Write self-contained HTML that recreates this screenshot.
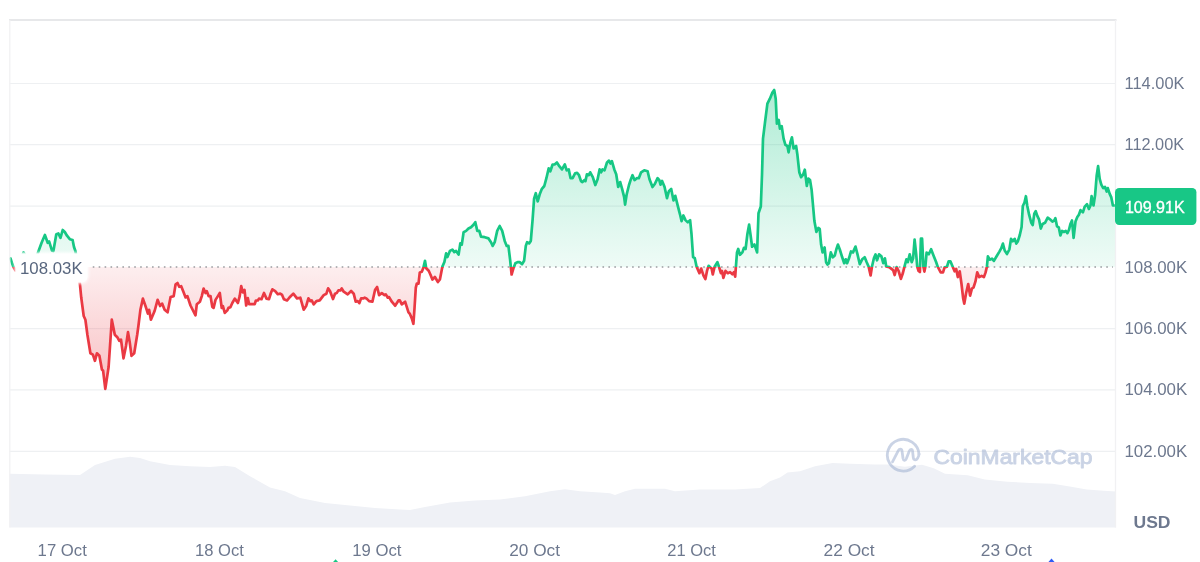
<!DOCTYPE html>
<html lang="en"><head><meta charset="utf-8"><title>BTC 7d price chart</title>
<style>
html,body{margin:0;padding:0;background:#ffffff;}
body{width:1200px;height:562px;overflow:hidden;font-family:"Liberation Sans",sans-serif;}
svg{display:block;will-change:transform;}
text{font-family:"Liberation Sans",sans-serif;}
</style></head><body>
<svg width="1200" height="562" viewBox="0 0 1200 562">
<defs>
<clipPath id="up"><rect x="0" y="0" width="1200" height="267"/></clipPath>
<clipPath id="dn"><rect x="0" y="267" width="1200" height="295"/></clipPath>
<linearGradient id="gg" gradientUnits="userSpaceOnUse" x1="0" y1="90" x2="0" y2="267">
<stop offset="0" stop-color="#16c784" stop-opacity="0.34"/><stop offset="1" stop-color="#16c784" stop-opacity="0.07"/></linearGradient>
<linearGradient id="rg" gradientUnits="userSpaceOnUse" x1="0" y1="267" x2="0" y2="389">
<stop offset="0" stop-color="#ea3943" stop-opacity="0.085"/><stop offset="1" stop-color="#ea3943" stop-opacity="0.32"/></linearGradient>
<filter id="blur" x="-30%" y="-60%" width="160%" height="220%"><feGaussianBlur stdDeviation="1.6"/></filter>
</defs>
<rect x="0" y="0" width="1200" height="562" fill="#ffffff"/>

<line x1="9.5" y1="83.5" x2="1115.5" y2="83.5" stroke="#eef0f2" stroke-width="1.2"/>
<line x1="9.5" y1="144.7" x2="1115.5" y2="144.7" stroke="#eef0f2" stroke-width="1.2"/>
<line x1="9.5" y1="206.1" x2="1115.5" y2="206.1" stroke="#eef0f2" stroke-width="1.2"/>
<line x1="9.5" y1="328.6" x2="1115.5" y2="328.6" stroke="#eef0f2" stroke-width="1.2"/>
<line x1="9.5" y1="389.9" x2="1115.5" y2="389.9" stroke="#eef0f2" stroke-width="1.2"/>
<line x1="9.5" y1="451.3" x2="1115.5" y2="451.3" stroke="#eef0f2" stroke-width="1.2"/>
<path d="M9.5,473.8 L45.0,474.5 L80.0,475.0 L95.0,465.0 L115.0,458.8 L130.0,456.8 L140.0,458.0 L150.0,461.2 L170.0,465.0 L190.0,466.2 L210.0,467.0 L225.0,465.8 L235.0,467.0 L250.0,476.2 L270.0,487.5 L285.0,491.2 L300.0,498.0 L325.0,503.0 L350.0,505.5 L375.0,508.0 L400.0,509.5 L410.0,510.0 L425.0,507.0 L450.0,502.5 L475.0,500.5 L500.0,499.5 L525.0,496.2 L550.0,491.2 L565.0,489.2 L580.0,491.2 L600.0,492.5 L610.0,493.2 L615.0,495.0 L625.0,491.2 L635.0,488.8 L665.0,488.8 L675.0,491.2 L700.0,489.5 L735.0,489.5 L760.0,488.0 L770.0,481.2 L780.0,477.5 L787.5,472.5 L800.0,471.2 L815.0,466.2 L832.5,463.0 L850.0,463.8 L875.0,464.5 L887.5,464.5 L905.0,466.8 L922.0,464.8 L933.7,468.2 L945.0,473.8 L967.7,475.3 L984.7,479.5 L1007.4,481.8 L1030.0,482.9 L1052.7,483.8 L1069.7,486.6 L1086.7,489.4 L1103.7,490.8 L1116.0,491.4 L1116.0,527.5 L9.5,527.5 Z" fill="#eff1f6"/>
<g opacity="0.55" fill="none" stroke="#9fb0d0" stroke-width="2.8" stroke-linecap="round" stroke-linejoin="round">
<path d="M914.6,466.2 A15.85,15.85 0 1 1 919.0,454.1"/>
<path d="M892.5,461.9 L898.3,450.6 C899.4,448.5 901.6,448.5 902,451 L903,458.3 C903.4,460.8 905.4,460.9 906.3,458.8 L909.2,451.2 C910.2,448.8 912.3,448.8 912.6,451.3 L913.3,457.6 C913.7,460.4 916.2,460.5 917.6,458.3 C918.6,456.7 919.0,455.5 919.0,454.1"/>
</g>
<g opacity="0.55"><text x="933.5" y="463.5" font-size="21" font-weight="400" fill="#9fb0d0" stroke="#9fb0d0" stroke-width="0.9" stroke-linejoin="round" textLength="159" lengthAdjust="spacingAndGlyphs">CoinMarketCap</text></g>

<path d="M10.5,258.5 L12.0,263.0 L13.5,267.0 L15.5,270.5 L18.0,270.0 L20.5,262.0 L23.5,252.4 L25.5,256.0 L28.0,262.0 L31.0,264.0 L34.0,262.0 L36.5,257.0 L38.5,251.3 L41.5,243.0 L44.9,235.0 L47.7,242.8 L49.1,241.4 L52.0,250.6 L53.4,251.0 L56.3,234.2 L58.4,233.5 L60.5,237.8 L62.7,230.0 L64.8,232.0 L67.0,235.7 L69.8,239.2 L72.6,240.0 L74.0,247.0 L75.5,251.3 L76.5,258.0 L77.5,267.0 L78.5,275.0 L80.0,284.9 L81.2,297.3 L83.7,316.0 L85.4,319.7 L87.4,334.7 L90.4,353.3 L92.9,354.6 L94.9,360.8 L96.9,353.3 L99.4,355.8 L101.9,369.5 L103.1,370.7 L105.3,388.9 L108.6,367.0 L111.8,319.7 L114.8,334.7 L117.3,337.2 L119.3,340.9 L121.0,339.6 L123.5,358.3 L126.0,345.9 L128.0,332.2 L129.7,342.1 L131.5,355.8 L134.2,353.3 L137.2,334.7 L138.4,326.0 L140.4,309.8 L142.9,298.6 L145.9,307.3 L147.9,313.5 L149.1,309.8 L150.9,319.7 L154.6,311.0 L157.6,299.8 L160.1,306.0 L162.1,303.6 L164.6,309.8 L167.6,312.3 L170.6,297.0 L173.7,296.1 L175.6,284.3 L177.5,283.0 L179.3,286.8 L181.2,286.2 L183.1,291.1 L185.6,297.4 L187.4,296.1 L190.5,305.5 L195.5,315.4 L196.8,304.2 L199.9,301.7 L201.8,296.1 L203.6,288.6 L205.5,293.0 L206.7,291.1 L208.6,296.1 L210.5,296.1 L212.3,306.7 L213.6,307.9 L215.5,299.9 L217.9,296.1 L219.8,293.0 L221.7,307.9 L222.9,306.1 L224.8,312.9 L227.3,310.4 L228.5,307.9 L230.4,307.3 L232.3,303.0 L234.8,298.6 L237.9,303.0 L239.7,296.1 L241.2,286.2 L242.9,292.4 L244.5,289.9 L246.2,305.5 L247.8,298.0 L249.1,304.2 L254.7,304.2 L255.9,300.5 L257.8,300.5 L259.0,298.6 L261.5,299.2 L264.0,293.0 L266.5,298.6 L269.0,299.2 L270.9,293.0 L272.4,289.3 L275.2,291.1 L277.7,294.2 L280.2,293.6 L282.1,294.9 L283.9,299.2 L287.1,300.5 L290.2,296.7 L293.3,293.6 L297.0,298.4 L300.3,297.7 L303.7,309.7 L306.3,305.7 L308.4,298.4 L310.4,301.1 L311.7,300.4 L313.7,304.4 L316.4,301.1 L319.7,300.4 L323.7,295.1 L326.4,293.7 L328.1,288.4 L330.0,291.0 L333.0,299.1 L335.0,293.7 L336.7,293.1 L338.4,290.4 L340.4,290.4 L341.7,288.4 L343.7,291.7 L347.7,294.4 L351.1,291.0 L353.7,293.7 L355.7,301.7 L357.7,301.1 L359.4,303.1 L361.1,298.4 L363.1,298.4 L364.7,297.7 L366.4,298.4 L369.1,301.1 L372.4,301.7 L375.1,289.7 L377.1,287.0 L379.1,295.1 L381.8,293.1 L384.5,295.1 L385.8,294.4 L387.8,297.7 L389.1,297.1 L391.8,301.7 L395.1,305.7 L398.5,300.4 L399.8,300.4 L401.8,304.4 L405.1,301.7 L408.5,312.4 L409.8,313.7 L411.8,318.4 L413.4,323.8 L414.5,308.4 L415.8,287.7 L416.8,283.7 L418.5,283.7 L419.8,272.4 L421.8,271.7 L423.4,267.7 L425.0,260.8 L426.2,268.3 L428.7,270.8 L430.4,274.5 L432.4,279.5 L434.9,277.0 L437.9,282.0 L439.9,279.5 L442.4,266.6 L444.4,262.0 L446.1,253.4 L447.4,257.1 L449.9,250.9 L452.4,249.6 L454.3,252.1 L456.1,250.9 L458.6,254.6 L460.3,243.4 L461.8,244.6 L463.6,232.2 L466.1,230.9 L468.5,228.5 L471.0,227.2 L473.5,224.7 L475.3,222.2 L477.3,230.9 L479.3,230.9 L481.0,236.7 L484.7,237.2 L488.5,238.4 L491.0,242.2 L492.7,245.9 L494.7,242.2 L497.2,230.9 L499.7,226.0 L502.2,230.9 L504.7,240.9 L506.7,245.9 L508.4,245.9 L510.1,259.6 L511.6,274.5 L513.4,268.3 L515.4,263.3 L517.6,262.1 L519.6,262.1 L522.1,264.1 L524.1,260.8 L525.8,245.9 L527.1,242.2 L529.1,243.4 L530.8,240.9 L532.6,219.7 L534.1,198.6 L535.8,193.2 L537.7,201.4 L539.7,194.3 L541.9,188.8 L544.3,186.0 L546.4,178.2 L548.7,168.4 L550.3,171.3 L552.6,164.5 L554.6,164.5 L556.9,162.5 L559.5,166.4 L562.0,169.4 L564.8,164.5 L566.7,170.3 L568.7,169.4 L570.6,178.2 L572.6,178.2 L575.1,173.3 L577.1,172.9 L579.0,175.2 L581.0,181.1 L582.4,182.1 L584.3,180.1 L585.5,181.1 L586.9,174.3 L588.8,175.2 L590.2,172.3 L592.8,177.2 L595.3,185.0 L597.6,179.2 L599.6,169.4 L601.2,172.3 L602.5,169.4 L604.5,170.3 L607.0,162.5 L609.0,160.6 L610.4,163.5 L611.9,161.1 L614.3,169.4 L616.2,174.3 L618.2,187.0 L620.2,182.1 L622.1,188.9 L624.1,196.8 L625.1,204.6 L626.6,194.8 L629.0,185.0 L630.9,179.2 L632.5,175.2 L634.5,180.1 L636.8,178.2 L638.8,178.2 L641.1,172.3 L644.2,170.3 L647.6,171.3 L649.5,179.2 L652.5,187.0 L654.8,184.0 L657.6,178.1 L659.3,180.1 L660.5,184.6 L662.1,181.0 L664.5,186.8 L667.0,198.1 L668.9,191.2 L671.2,188.9 L673.5,200.4 L675.3,195.8 L677.6,205.1 L680.0,214.3 L681.6,221.2 L683.4,215.5 L685.5,220.1 L687.8,222.4 L690.1,220.1 L691.5,234.0 L693.1,257.1 L694.8,258.2 L696.6,266.8 L699.4,273.2 L701.2,268.6 L703.5,275.6 L705.4,279.0 L707.0,270.9 L708.6,265.8 L711.6,268.6 L712.8,274.4 L714.6,266.8 L717.4,262.1 L719.2,267.5 L720.9,273.2 L722.0,270.9 L723.4,277.9 L725.5,270.9 L727.8,273.2 L730.1,272.1 L732.4,274.4 L734.0,272.1 L735.2,276.7 L735.9,266.8 L737.0,252.4 L738.2,249.0 L740.0,254.8 L742.4,252.4 L744.0,247.8 L745.6,249.0 L747.4,234.0 L749.1,224.7 L750.4,234.0 L752.1,246.7 L754.4,244.4 L757.1,252.4 L758.5,213.2 L760.8,206.5 L762.0,175.0 L763.0,138.6 L765.0,122.4 L767.4,103.7 L769.9,98.7 L772.4,92.5 L774.2,90.0 L775.7,98.7 L776.9,123.6 L778.7,119.9 L779.9,128.6 L781.7,126.1 L783.6,138.6 L785.4,144.8 L787.4,146.0 L788.6,152.3 L790.4,142.3 L791.9,137.3 L793.6,148.5 L796.1,146.0 L797.4,154.8 L799.3,172.2 L801.1,177.2 L803.1,174.7 L804.8,169.7 L806.8,185.9 L808.3,178.5 L810.0,180.0 L811.6,189.7 L812.8,203.0 L814.4,221.1 L816.4,231.9 L818.3,228.0 L819.7,228.9 L821.1,244.6 L822.6,252.4 L824.6,247.5 L826.1,262.2 L827.5,264.6 L828.9,263.2 L830.8,252.4 L832.8,257.3 L834.8,255.4 L836.3,249.5 L837.9,244.6 L839.8,249.5 L842.2,257.3 L844.2,263.2 L845.7,259.3 L847.1,263.2 L849.0,258.3 L851.0,251.5 L853.0,252.4 L855.5,246.6 L857.5,254.4 L859.8,264.2 L862.2,259.3 L864.7,257.3 L866.7,262.2 L868.6,266.5 L870.6,275.5 L872.0,266.5 L873.9,258.3 L875.5,254.4 L877.0,260.3 L879.0,254.4 L881.4,256.4 L883.3,263.2 L884.9,258.3 L886.2,266.5 L889.2,267.1 L893.1,270.1 L894.7,275.0 L896.6,267.1 L898.6,271.0 L900.9,278.9 L902.9,273.0 L904.5,266.5 L906.4,259.3 L907.8,262.2 L909.7,254.4 L911.7,262.2 L913.1,258.3 L914.6,239.7 L916.2,254.4 L917.2,266.5 L918.6,271.0 L919.9,272.0 L920.9,238.7 L922.1,238.7 L923.4,266.5 L924.4,271.6 L925.4,266.5 L926.6,252.6 L928.8,254.2 L931.1,249.2 L933.5,255.4 L936.1,262.0 L937.7,266.7 L940.7,272.4 L943.0,272.4 L944.6,267.4 L947.0,266.7 L948.6,261.3 L950.4,261.3 L952.7,266.7 L954.6,271.3 L956.2,269.0 L957.8,277.1 L959.7,271.3 L961.5,284.0 L963.1,297.9 L964.3,303.6 L966.1,293.2 L968.2,284.0 L970.1,295.6 L971.9,288.6 L973.5,287.5 L975.4,281.7 L977.2,272.4 L979.3,277.1 L981.6,275.9 L983.9,277.1 L985.6,272.4 L986.9,266.7 L987.9,256.3 L989.7,259.7 L992.0,258.6 L993.9,260.9 L996.6,256.3 L999.4,251.6 L1001.3,248.2 L1002.9,243.6 L1004.7,250.5 L1007.0,254.0 L1009.4,249.3 L1011.0,238.9 L1012.8,241.2 L1014.7,238.9 L1016.3,243.6 L1017.9,241.2 L1019.8,235.0 L1021.6,227.0 L1022.8,206.0 L1024.5,202.5 L1025.9,196.2 L1027.3,206.0 L1029.1,214.7 L1031.2,222.5 L1032.7,225.1 L1034.3,213.6 L1035.7,211.2 L1037.3,215.9 L1039.0,219.3 L1040.8,228.6 L1042.6,224.0 L1045.0,222.8 L1047.7,217.7 L1050.0,219.3 L1052.4,221.6 L1054.2,220.5 L1055.4,218.2 L1057.0,226.3 L1058.8,227.4 L1060.4,235.5 L1062.1,230.9 L1063.9,232.0 L1065.8,230.9 L1067.4,233.2 L1069.0,229.7 L1070.4,224.0 L1072.0,220.5 L1073.6,237.8 L1075.5,221.6 L1077.3,217.0 L1078.9,214.7 L1080.5,210.1 L1082.9,212.4 L1084.7,206.6 L1087.0,204.3 L1088.9,208.9 L1090.5,205.5 L1091.6,196.2 L1093.5,205.5 L1095.1,195.1 L1096.7,175.4 L1098.1,166.2 L1099.7,178.9 L1101.3,184.7 L1103.2,188.1 L1105.0,187.0 L1106.7,191.6 L1107.8,188.1 L1109.7,193.9 L1111.3,197.4 L1112.9,205.5 L1115.5,205.5 L1115.5,267.0 L10.5,267.0 Z" fill="url(#gg)" clip-path="url(#up)"/>
<path d="M10.5,258.5 L12.0,263.0 L13.5,267.0 L15.5,270.5 L18.0,270.0 L20.5,262.0 L23.5,252.4 L25.5,256.0 L28.0,262.0 L31.0,264.0 L34.0,262.0 L36.5,257.0 L38.5,251.3 L41.5,243.0 L44.9,235.0 L47.7,242.8 L49.1,241.4 L52.0,250.6 L53.4,251.0 L56.3,234.2 L58.4,233.5 L60.5,237.8 L62.7,230.0 L64.8,232.0 L67.0,235.7 L69.8,239.2 L72.6,240.0 L74.0,247.0 L75.5,251.3 L76.5,258.0 L77.5,267.0 L78.5,275.0 L80.0,284.9 L81.2,297.3 L83.7,316.0 L85.4,319.7 L87.4,334.7 L90.4,353.3 L92.9,354.6 L94.9,360.8 L96.9,353.3 L99.4,355.8 L101.9,369.5 L103.1,370.7 L105.3,388.9 L108.6,367.0 L111.8,319.7 L114.8,334.7 L117.3,337.2 L119.3,340.9 L121.0,339.6 L123.5,358.3 L126.0,345.9 L128.0,332.2 L129.7,342.1 L131.5,355.8 L134.2,353.3 L137.2,334.7 L138.4,326.0 L140.4,309.8 L142.9,298.6 L145.9,307.3 L147.9,313.5 L149.1,309.8 L150.9,319.7 L154.6,311.0 L157.6,299.8 L160.1,306.0 L162.1,303.6 L164.6,309.8 L167.6,312.3 L170.6,297.0 L173.7,296.1 L175.6,284.3 L177.5,283.0 L179.3,286.8 L181.2,286.2 L183.1,291.1 L185.6,297.4 L187.4,296.1 L190.5,305.5 L195.5,315.4 L196.8,304.2 L199.9,301.7 L201.8,296.1 L203.6,288.6 L205.5,293.0 L206.7,291.1 L208.6,296.1 L210.5,296.1 L212.3,306.7 L213.6,307.9 L215.5,299.9 L217.9,296.1 L219.8,293.0 L221.7,307.9 L222.9,306.1 L224.8,312.9 L227.3,310.4 L228.5,307.9 L230.4,307.3 L232.3,303.0 L234.8,298.6 L237.9,303.0 L239.7,296.1 L241.2,286.2 L242.9,292.4 L244.5,289.9 L246.2,305.5 L247.8,298.0 L249.1,304.2 L254.7,304.2 L255.9,300.5 L257.8,300.5 L259.0,298.6 L261.5,299.2 L264.0,293.0 L266.5,298.6 L269.0,299.2 L270.9,293.0 L272.4,289.3 L275.2,291.1 L277.7,294.2 L280.2,293.6 L282.1,294.9 L283.9,299.2 L287.1,300.5 L290.2,296.7 L293.3,293.6 L297.0,298.4 L300.3,297.7 L303.7,309.7 L306.3,305.7 L308.4,298.4 L310.4,301.1 L311.7,300.4 L313.7,304.4 L316.4,301.1 L319.7,300.4 L323.7,295.1 L326.4,293.7 L328.1,288.4 L330.0,291.0 L333.0,299.1 L335.0,293.7 L336.7,293.1 L338.4,290.4 L340.4,290.4 L341.7,288.4 L343.7,291.7 L347.7,294.4 L351.1,291.0 L353.7,293.7 L355.7,301.7 L357.7,301.1 L359.4,303.1 L361.1,298.4 L363.1,298.4 L364.7,297.7 L366.4,298.4 L369.1,301.1 L372.4,301.7 L375.1,289.7 L377.1,287.0 L379.1,295.1 L381.8,293.1 L384.5,295.1 L385.8,294.4 L387.8,297.7 L389.1,297.1 L391.8,301.7 L395.1,305.7 L398.5,300.4 L399.8,300.4 L401.8,304.4 L405.1,301.7 L408.5,312.4 L409.8,313.7 L411.8,318.4 L413.4,323.8 L414.5,308.4 L415.8,287.7 L416.8,283.7 L418.5,283.7 L419.8,272.4 L421.8,271.7 L423.4,267.7 L425.0,260.8 L426.2,268.3 L428.7,270.8 L430.4,274.5 L432.4,279.5 L434.9,277.0 L437.9,282.0 L439.9,279.5 L442.4,266.6 L444.4,262.0 L446.1,253.4 L447.4,257.1 L449.9,250.9 L452.4,249.6 L454.3,252.1 L456.1,250.9 L458.6,254.6 L460.3,243.4 L461.8,244.6 L463.6,232.2 L466.1,230.9 L468.5,228.5 L471.0,227.2 L473.5,224.7 L475.3,222.2 L477.3,230.9 L479.3,230.9 L481.0,236.7 L484.7,237.2 L488.5,238.4 L491.0,242.2 L492.7,245.9 L494.7,242.2 L497.2,230.9 L499.7,226.0 L502.2,230.9 L504.7,240.9 L506.7,245.9 L508.4,245.9 L510.1,259.6 L511.6,274.5 L513.4,268.3 L515.4,263.3 L517.6,262.1 L519.6,262.1 L522.1,264.1 L524.1,260.8 L525.8,245.9 L527.1,242.2 L529.1,243.4 L530.8,240.9 L532.6,219.7 L534.1,198.6 L535.8,193.2 L537.7,201.4 L539.7,194.3 L541.9,188.8 L544.3,186.0 L546.4,178.2 L548.7,168.4 L550.3,171.3 L552.6,164.5 L554.6,164.5 L556.9,162.5 L559.5,166.4 L562.0,169.4 L564.8,164.5 L566.7,170.3 L568.7,169.4 L570.6,178.2 L572.6,178.2 L575.1,173.3 L577.1,172.9 L579.0,175.2 L581.0,181.1 L582.4,182.1 L584.3,180.1 L585.5,181.1 L586.9,174.3 L588.8,175.2 L590.2,172.3 L592.8,177.2 L595.3,185.0 L597.6,179.2 L599.6,169.4 L601.2,172.3 L602.5,169.4 L604.5,170.3 L607.0,162.5 L609.0,160.6 L610.4,163.5 L611.9,161.1 L614.3,169.4 L616.2,174.3 L618.2,187.0 L620.2,182.1 L622.1,188.9 L624.1,196.8 L625.1,204.6 L626.6,194.8 L629.0,185.0 L630.9,179.2 L632.5,175.2 L634.5,180.1 L636.8,178.2 L638.8,178.2 L641.1,172.3 L644.2,170.3 L647.6,171.3 L649.5,179.2 L652.5,187.0 L654.8,184.0 L657.6,178.1 L659.3,180.1 L660.5,184.6 L662.1,181.0 L664.5,186.8 L667.0,198.1 L668.9,191.2 L671.2,188.9 L673.5,200.4 L675.3,195.8 L677.6,205.1 L680.0,214.3 L681.6,221.2 L683.4,215.5 L685.5,220.1 L687.8,222.4 L690.1,220.1 L691.5,234.0 L693.1,257.1 L694.8,258.2 L696.6,266.8 L699.4,273.2 L701.2,268.6 L703.5,275.6 L705.4,279.0 L707.0,270.9 L708.6,265.8 L711.6,268.6 L712.8,274.4 L714.6,266.8 L717.4,262.1 L719.2,267.5 L720.9,273.2 L722.0,270.9 L723.4,277.9 L725.5,270.9 L727.8,273.2 L730.1,272.1 L732.4,274.4 L734.0,272.1 L735.2,276.7 L735.9,266.8 L737.0,252.4 L738.2,249.0 L740.0,254.8 L742.4,252.4 L744.0,247.8 L745.6,249.0 L747.4,234.0 L749.1,224.7 L750.4,234.0 L752.1,246.7 L754.4,244.4 L757.1,252.4 L758.5,213.2 L760.8,206.5 L762.0,175.0 L763.0,138.6 L765.0,122.4 L767.4,103.7 L769.9,98.7 L772.4,92.5 L774.2,90.0 L775.7,98.7 L776.9,123.6 L778.7,119.9 L779.9,128.6 L781.7,126.1 L783.6,138.6 L785.4,144.8 L787.4,146.0 L788.6,152.3 L790.4,142.3 L791.9,137.3 L793.6,148.5 L796.1,146.0 L797.4,154.8 L799.3,172.2 L801.1,177.2 L803.1,174.7 L804.8,169.7 L806.8,185.9 L808.3,178.5 L810.0,180.0 L811.6,189.7 L812.8,203.0 L814.4,221.1 L816.4,231.9 L818.3,228.0 L819.7,228.9 L821.1,244.6 L822.6,252.4 L824.6,247.5 L826.1,262.2 L827.5,264.6 L828.9,263.2 L830.8,252.4 L832.8,257.3 L834.8,255.4 L836.3,249.5 L837.9,244.6 L839.8,249.5 L842.2,257.3 L844.2,263.2 L845.7,259.3 L847.1,263.2 L849.0,258.3 L851.0,251.5 L853.0,252.4 L855.5,246.6 L857.5,254.4 L859.8,264.2 L862.2,259.3 L864.7,257.3 L866.7,262.2 L868.6,266.5 L870.6,275.5 L872.0,266.5 L873.9,258.3 L875.5,254.4 L877.0,260.3 L879.0,254.4 L881.4,256.4 L883.3,263.2 L884.9,258.3 L886.2,266.5 L889.2,267.1 L893.1,270.1 L894.7,275.0 L896.6,267.1 L898.6,271.0 L900.9,278.9 L902.9,273.0 L904.5,266.5 L906.4,259.3 L907.8,262.2 L909.7,254.4 L911.7,262.2 L913.1,258.3 L914.6,239.7 L916.2,254.4 L917.2,266.5 L918.6,271.0 L919.9,272.0 L920.9,238.7 L922.1,238.7 L923.4,266.5 L924.4,271.6 L925.4,266.5 L926.6,252.6 L928.8,254.2 L931.1,249.2 L933.5,255.4 L936.1,262.0 L937.7,266.7 L940.7,272.4 L943.0,272.4 L944.6,267.4 L947.0,266.7 L948.6,261.3 L950.4,261.3 L952.7,266.7 L954.6,271.3 L956.2,269.0 L957.8,277.1 L959.7,271.3 L961.5,284.0 L963.1,297.9 L964.3,303.6 L966.1,293.2 L968.2,284.0 L970.1,295.6 L971.9,288.6 L973.5,287.5 L975.4,281.7 L977.2,272.4 L979.3,277.1 L981.6,275.9 L983.9,277.1 L985.6,272.4 L986.9,266.7 L987.9,256.3 L989.7,259.7 L992.0,258.6 L993.9,260.9 L996.6,256.3 L999.4,251.6 L1001.3,248.2 L1002.9,243.6 L1004.7,250.5 L1007.0,254.0 L1009.4,249.3 L1011.0,238.9 L1012.8,241.2 L1014.7,238.9 L1016.3,243.6 L1017.9,241.2 L1019.8,235.0 L1021.6,227.0 L1022.8,206.0 L1024.5,202.5 L1025.9,196.2 L1027.3,206.0 L1029.1,214.7 L1031.2,222.5 L1032.7,225.1 L1034.3,213.6 L1035.7,211.2 L1037.3,215.9 L1039.0,219.3 L1040.8,228.6 L1042.6,224.0 L1045.0,222.8 L1047.7,217.7 L1050.0,219.3 L1052.4,221.6 L1054.2,220.5 L1055.4,218.2 L1057.0,226.3 L1058.8,227.4 L1060.4,235.5 L1062.1,230.9 L1063.9,232.0 L1065.8,230.9 L1067.4,233.2 L1069.0,229.7 L1070.4,224.0 L1072.0,220.5 L1073.6,237.8 L1075.5,221.6 L1077.3,217.0 L1078.9,214.7 L1080.5,210.1 L1082.9,212.4 L1084.7,206.6 L1087.0,204.3 L1088.9,208.9 L1090.5,205.5 L1091.6,196.2 L1093.5,205.5 L1095.1,195.1 L1096.7,175.4 L1098.1,166.2 L1099.7,178.9 L1101.3,184.7 L1103.2,188.1 L1105.0,187.0 L1106.7,191.6 L1107.8,188.1 L1109.7,193.9 L1111.3,197.4 L1112.9,205.5 L1115.5,205.5 L1115.5,267.0 L10.5,267.0 Z" fill="url(#rg)" clip-path="url(#dn)"/>
<line x1="92.75" y1="267.0" x2="1113" y2="267.0" stroke="#9a9ca0" stroke-width="1.6" stroke-dasharray="1.6 4.327"/>
<path d="M10.5,258.5 L12.0,263.0 L13.5,267.0 L15.5,270.5 L18.0,270.0 L20.5,262.0 L23.5,252.4 L25.5,256.0 L28.0,262.0 L31.0,264.0 L34.0,262.0 L36.5,257.0 L38.5,251.3 L41.5,243.0 L44.9,235.0 L47.7,242.8 L49.1,241.4 L52.0,250.6 L53.4,251.0 L56.3,234.2 L58.4,233.5 L60.5,237.8 L62.7,230.0 L64.8,232.0 L67.0,235.7 L69.8,239.2 L72.6,240.0 L74.0,247.0 L75.5,251.3 L76.5,258.0 L77.5,267.0 L78.5,275.0 L80.0,284.9 L81.2,297.3 L83.7,316.0 L85.4,319.7 L87.4,334.7 L90.4,353.3 L92.9,354.6 L94.9,360.8 L96.9,353.3 L99.4,355.8 L101.9,369.5 L103.1,370.7 L105.3,388.9 L108.6,367.0 L111.8,319.7 L114.8,334.7 L117.3,337.2 L119.3,340.9 L121.0,339.6 L123.5,358.3 L126.0,345.9 L128.0,332.2 L129.7,342.1 L131.5,355.8 L134.2,353.3 L137.2,334.7 L138.4,326.0 L140.4,309.8 L142.9,298.6 L145.9,307.3 L147.9,313.5 L149.1,309.8 L150.9,319.7 L154.6,311.0 L157.6,299.8 L160.1,306.0 L162.1,303.6 L164.6,309.8 L167.6,312.3 L170.6,297.0 L173.7,296.1 L175.6,284.3 L177.5,283.0 L179.3,286.8 L181.2,286.2 L183.1,291.1 L185.6,297.4 L187.4,296.1 L190.5,305.5 L195.5,315.4 L196.8,304.2 L199.9,301.7 L201.8,296.1 L203.6,288.6 L205.5,293.0 L206.7,291.1 L208.6,296.1 L210.5,296.1 L212.3,306.7 L213.6,307.9 L215.5,299.9 L217.9,296.1 L219.8,293.0 L221.7,307.9 L222.9,306.1 L224.8,312.9 L227.3,310.4 L228.5,307.9 L230.4,307.3 L232.3,303.0 L234.8,298.6 L237.9,303.0 L239.7,296.1 L241.2,286.2 L242.9,292.4 L244.5,289.9 L246.2,305.5 L247.8,298.0 L249.1,304.2 L254.7,304.2 L255.9,300.5 L257.8,300.5 L259.0,298.6 L261.5,299.2 L264.0,293.0 L266.5,298.6 L269.0,299.2 L270.9,293.0 L272.4,289.3 L275.2,291.1 L277.7,294.2 L280.2,293.6 L282.1,294.9 L283.9,299.2 L287.1,300.5 L290.2,296.7 L293.3,293.6 L297.0,298.4 L300.3,297.7 L303.7,309.7 L306.3,305.7 L308.4,298.4 L310.4,301.1 L311.7,300.4 L313.7,304.4 L316.4,301.1 L319.7,300.4 L323.7,295.1 L326.4,293.7 L328.1,288.4 L330.0,291.0 L333.0,299.1 L335.0,293.7 L336.7,293.1 L338.4,290.4 L340.4,290.4 L341.7,288.4 L343.7,291.7 L347.7,294.4 L351.1,291.0 L353.7,293.7 L355.7,301.7 L357.7,301.1 L359.4,303.1 L361.1,298.4 L363.1,298.4 L364.7,297.7 L366.4,298.4 L369.1,301.1 L372.4,301.7 L375.1,289.7 L377.1,287.0 L379.1,295.1 L381.8,293.1 L384.5,295.1 L385.8,294.4 L387.8,297.7 L389.1,297.1 L391.8,301.7 L395.1,305.7 L398.5,300.4 L399.8,300.4 L401.8,304.4 L405.1,301.7 L408.5,312.4 L409.8,313.7 L411.8,318.4 L413.4,323.8 L414.5,308.4 L415.8,287.7 L416.8,283.7 L418.5,283.7 L419.8,272.4 L421.8,271.7 L423.4,267.7 L425.0,260.8 L426.2,268.3 L428.7,270.8 L430.4,274.5 L432.4,279.5 L434.9,277.0 L437.9,282.0 L439.9,279.5 L442.4,266.6 L444.4,262.0 L446.1,253.4 L447.4,257.1 L449.9,250.9 L452.4,249.6 L454.3,252.1 L456.1,250.9 L458.6,254.6 L460.3,243.4 L461.8,244.6 L463.6,232.2 L466.1,230.9 L468.5,228.5 L471.0,227.2 L473.5,224.7 L475.3,222.2 L477.3,230.9 L479.3,230.9 L481.0,236.7 L484.7,237.2 L488.5,238.4 L491.0,242.2 L492.7,245.9 L494.7,242.2 L497.2,230.9 L499.7,226.0 L502.2,230.9 L504.7,240.9 L506.7,245.9 L508.4,245.9 L510.1,259.6 L511.6,274.5 L513.4,268.3 L515.4,263.3 L517.6,262.1 L519.6,262.1 L522.1,264.1 L524.1,260.8 L525.8,245.9 L527.1,242.2 L529.1,243.4 L530.8,240.9 L532.6,219.7 L534.1,198.6 L535.8,193.2 L537.7,201.4 L539.7,194.3 L541.9,188.8 L544.3,186.0 L546.4,178.2 L548.7,168.4 L550.3,171.3 L552.6,164.5 L554.6,164.5 L556.9,162.5 L559.5,166.4 L562.0,169.4 L564.8,164.5 L566.7,170.3 L568.7,169.4 L570.6,178.2 L572.6,178.2 L575.1,173.3 L577.1,172.9 L579.0,175.2 L581.0,181.1 L582.4,182.1 L584.3,180.1 L585.5,181.1 L586.9,174.3 L588.8,175.2 L590.2,172.3 L592.8,177.2 L595.3,185.0 L597.6,179.2 L599.6,169.4 L601.2,172.3 L602.5,169.4 L604.5,170.3 L607.0,162.5 L609.0,160.6 L610.4,163.5 L611.9,161.1 L614.3,169.4 L616.2,174.3 L618.2,187.0 L620.2,182.1 L622.1,188.9 L624.1,196.8 L625.1,204.6 L626.6,194.8 L629.0,185.0 L630.9,179.2 L632.5,175.2 L634.5,180.1 L636.8,178.2 L638.8,178.2 L641.1,172.3 L644.2,170.3 L647.6,171.3 L649.5,179.2 L652.5,187.0 L654.8,184.0 L657.6,178.1 L659.3,180.1 L660.5,184.6 L662.1,181.0 L664.5,186.8 L667.0,198.1 L668.9,191.2 L671.2,188.9 L673.5,200.4 L675.3,195.8 L677.6,205.1 L680.0,214.3 L681.6,221.2 L683.4,215.5 L685.5,220.1 L687.8,222.4 L690.1,220.1 L691.5,234.0 L693.1,257.1 L694.8,258.2 L696.6,266.8 L699.4,273.2 L701.2,268.6 L703.5,275.6 L705.4,279.0 L707.0,270.9 L708.6,265.8 L711.6,268.6 L712.8,274.4 L714.6,266.8 L717.4,262.1 L719.2,267.5 L720.9,273.2 L722.0,270.9 L723.4,277.9 L725.5,270.9 L727.8,273.2 L730.1,272.1 L732.4,274.4 L734.0,272.1 L735.2,276.7 L735.9,266.8 L737.0,252.4 L738.2,249.0 L740.0,254.8 L742.4,252.4 L744.0,247.8 L745.6,249.0 L747.4,234.0 L749.1,224.7 L750.4,234.0 L752.1,246.7 L754.4,244.4 L757.1,252.4 L758.5,213.2 L760.8,206.5 L762.0,175.0 L763.0,138.6 L765.0,122.4 L767.4,103.7 L769.9,98.7 L772.4,92.5 L774.2,90.0 L775.7,98.7 L776.9,123.6 L778.7,119.9 L779.9,128.6 L781.7,126.1 L783.6,138.6 L785.4,144.8 L787.4,146.0 L788.6,152.3 L790.4,142.3 L791.9,137.3 L793.6,148.5 L796.1,146.0 L797.4,154.8 L799.3,172.2 L801.1,177.2 L803.1,174.7 L804.8,169.7 L806.8,185.9 L808.3,178.5 L810.0,180.0 L811.6,189.7 L812.8,203.0 L814.4,221.1 L816.4,231.9 L818.3,228.0 L819.7,228.9 L821.1,244.6 L822.6,252.4 L824.6,247.5 L826.1,262.2 L827.5,264.6 L828.9,263.2 L830.8,252.4 L832.8,257.3 L834.8,255.4 L836.3,249.5 L837.9,244.6 L839.8,249.5 L842.2,257.3 L844.2,263.2 L845.7,259.3 L847.1,263.2 L849.0,258.3 L851.0,251.5 L853.0,252.4 L855.5,246.6 L857.5,254.4 L859.8,264.2 L862.2,259.3 L864.7,257.3 L866.7,262.2 L868.6,266.5 L870.6,275.5 L872.0,266.5 L873.9,258.3 L875.5,254.4 L877.0,260.3 L879.0,254.4 L881.4,256.4 L883.3,263.2 L884.9,258.3 L886.2,266.5 L889.2,267.1 L893.1,270.1 L894.7,275.0 L896.6,267.1 L898.6,271.0 L900.9,278.9 L902.9,273.0 L904.5,266.5 L906.4,259.3 L907.8,262.2 L909.7,254.4 L911.7,262.2 L913.1,258.3 L914.6,239.7 L916.2,254.4 L917.2,266.5 L918.6,271.0 L919.9,272.0 L920.9,238.7 L922.1,238.7 L923.4,266.5 L924.4,271.6 L925.4,266.5 L926.6,252.6 L928.8,254.2 L931.1,249.2 L933.5,255.4 L936.1,262.0 L937.7,266.7 L940.7,272.4 L943.0,272.4 L944.6,267.4 L947.0,266.7 L948.6,261.3 L950.4,261.3 L952.7,266.7 L954.6,271.3 L956.2,269.0 L957.8,277.1 L959.7,271.3 L961.5,284.0 L963.1,297.9 L964.3,303.6 L966.1,293.2 L968.2,284.0 L970.1,295.6 L971.9,288.6 L973.5,287.5 L975.4,281.7 L977.2,272.4 L979.3,277.1 L981.6,275.9 L983.9,277.1 L985.6,272.4 L986.9,266.7 L987.9,256.3 L989.7,259.7 L992.0,258.6 L993.9,260.9 L996.6,256.3 L999.4,251.6 L1001.3,248.2 L1002.9,243.6 L1004.7,250.5 L1007.0,254.0 L1009.4,249.3 L1011.0,238.9 L1012.8,241.2 L1014.7,238.9 L1016.3,243.6 L1017.9,241.2 L1019.8,235.0 L1021.6,227.0 L1022.8,206.0 L1024.5,202.5 L1025.9,196.2 L1027.3,206.0 L1029.1,214.7 L1031.2,222.5 L1032.7,225.1 L1034.3,213.6 L1035.7,211.2 L1037.3,215.9 L1039.0,219.3 L1040.8,228.6 L1042.6,224.0 L1045.0,222.8 L1047.7,217.7 L1050.0,219.3 L1052.4,221.6 L1054.2,220.5 L1055.4,218.2 L1057.0,226.3 L1058.8,227.4 L1060.4,235.5 L1062.1,230.9 L1063.9,232.0 L1065.8,230.9 L1067.4,233.2 L1069.0,229.7 L1070.4,224.0 L1072.0,220.5 L1073.6,237.8 L1075.5,221.6 L1077.3,217.0 L1078.9,214.7 L1080.5,210.1 L1082.9,212.4 L1084.7,206.6 L1087.0,204.3 L1088.9,208.9 L1090.5,205.5 L1091.6,196.2 L1093.5,205.5 L1095.1,195.1 L1096.7,175.4 L1098.1,166.2 L1099.7,178.9 L1101.3,184.7 L1103.2,188.1 L1105.0,187.0 L1106.7,191.6 L1107.8,188.1 L1109.7,193.9 L1111.3,197.4 L1112.9,205.5 L1115.5,205.5" fill="none" stroke="#16c784" stroke-width="2.7" stroke-linejoin="round" stroke-linecap="round" clip-path="url(#up)"/>
<path d="M10.5,258.5 L12.0,263.0 L13.5,267.0 L15.5,270.5 L18.0,270.0 L20.5,262.0 L23.5,252.4 L25.5,256.0 L28.0,262.0 L31.0,264.0 L34.0,262.0 L36.5,257.0 L38.5,251.3 L41.5,243.0 L44.9,235.0 L47.7,242.8 L49.1,241.4 L52.0,250.6 L53.4,251.0 L56.3,234.2 L58.4,233.5 L60.5,237.8 L62.7,230.0 L64.8,232.0 L67.0,235.7 L69.8,239.2 L72.6,240.0 L74.0,247.0 L75.5,251.3 L76.5,258.0 L77.5,267.0 L78.5,275.0 L80.0,284.9 L81.2,297.3 L83.7,316.0 L85.4,319.7 L87.4,334.7 L90.4,353.3 L92.9,354.6 L94.9,360.8 L96.9,353.3 L99.4,355.8 L101.9,369.5 L103.1,370.7 L105.3,388.9 L108.6,367.0 L111.8,319.7 L114.8,334.7 L117.3,337.2 L119.3,340.9 L121.0,339.6 L123.5,358.3 L126.0,345.9 L128.0,332.2 L129.7,342.1 L131.5,355.8 L134.2,353.3 L137.2,334.7 L138.4,326.0 L140.4,309.8 L142.9,298.6 L145.9,307.3 L147.9,313.5 L149.1,309.8 L150.9,319.7 L154.6,311.0 L157.6,299.8 L160.1,306.0 L162.1,303.6 L164.6,309.8 L167.6,312.3 L170.6,297.0 L173.7,296.1 L175.6,284.3 L177.5,283.0 L179.3,286.8 L181.2,286.2 L183.1,291.1 L185.6,297.4 L187.4,296.1 L190.5,305.5 L195.5,315.4 L196.8,304.2 L199.9,301.7 L201.8,296.1 L203.6,288.6 L205.5,293.0 L206.7,291.1 L208.6,296.1 L210.5,296.1 L212.3,306.7 L213.6,307.9 L215.5,299.9 L217.9,296.1 L219.8,293.0 L221.7,307.9 L222.9,306.1 L224.8,312.9 L227.3,310.4 L228.5,307.9 L230.4,307.3 L232.3,303.0 L234.8,298.6 L237.9,303.0 L239.7,296.1 L241.2,286.2 L242.9,292.4 L244.5,289.9 L246.2,305.5 L247.8,298.0 L249.1,304.2 L254.7,304.2 L255.9,300.5 L257.8,300.5 L259.0,298.6 L261.5,299.2 L264.0,293.0 L266.5,298.6 L269.0,299.2 L270.9,293.0 L272.4,289.3 L275.2,291.1 L277.7,294.2 L280.2,293.6 L282.1,294.9 L283.9,299.2 L287.1,300.5 L290.2,296.7 L293.3,293.6 L297.0,298.4 L300.3,297.7 L303.7,309.7 L306.3,305.7 L308.4,298.4 L310.4,301.1 L311.7,300.4 L313.7,304.4 L316.4,301.1 L319.7,300.4 L323.7,295.1 L326.4,293.7 L328.1,288.4 L330.0,291.0 L333.0,299.1 L335.0,293.7 L336.7,293.1 L338.4,290.4 L340.4,290.4 L341.7,288.4 L343.7,291.7 L347.7,294.4 L351.1,291.0 L353.7,293.7 L355.7,301.7 L357.7,301.1 L359.4,303.1 L361.1,298.4 L363.1,298.4 L364.7,297.7 L366.4,298.4 L369.1,301.1 L372.4,301.7 L375.1,289.7 L377.1,287.0 L379.1,295.1 L381.8,293.1 L384.5,295.1 L385.8,294.4 L387.8,297.7 L389.1,297.1 L391.8,301.7 L395.1,305.7 L398.5,300.4 L399.8,300.4 L401.8,304.4 L405.1,301.7 L408.5,312.4 L409.8,313.7 L411.8,318.4 L413.4,323.8 L414.5,308.4 L415.8,287.7 L416.8,283.7 L418.5,283.7 L419.8,272.4 L421.8,271.7 L423.4,267.7 L425.0,260.8 L426.2,268.3 L428.7,270.8 L430.4,274.5 L432.4,279.5 L434.9,277.0 L437.9,282.0 L439.9,279.5 L442.4,266.6 L444.4,262.0 L446.1,253.4 L447.4,257.1 L449.9,250.9 L452.4,249.6 L454.3,252.1 L456.1,250.9 L458.6,254.6 L460.3,243.4 L461.8,244.6 L463.6,232.2 L466.1,230.9 L468.5,228.5 L471.0,227.2 L473.5,224.7 L475.3,222.2 L477.3,230.9 L479.3,230.9 L481.0,236.7 L484.7,237.2 L488.5,238.4 L491.0,242.2 L492.7,245.9 L494.7,242.2 L497.2,230.9 L499.7,226.0 L502.2,230.9 L504.7,240.9 L506.7,245.9 L508.4,245.9 L510.1,259.6 L511.6,274.5 L513.4,268.3 L515.4,263.3 L517.6,262.1 L519.6,262.1 L522.1,264.1 L524.1,260.8 L525.8,245.9 L527.1,242.2 L529.1,243.4 L530.8,240.9 L532.6,219.7 L534.1,198.6 L535.8,193.2 L537.7,201.4 L539.7,194.3 L541.9,188.8 L544.3,186.0 L546.4,178.2 L548.7,168.4 L550.3,171.3 L552.6,164.5 L554.6,164.5 L556.9,162.5 L559.5,166.4 L562.0,169.4 L564.8,164.5 L566.7,170.3 L568.7,169.4 L570.6,178.2 L572.6,178.2 L575.1,173.3 L577.1,172.9 L579.0,175.2 L581.0,181.1 L582.4,182.1 L584.3,180.1 L585.5,181.1 L586.9,174.3 L588.8,175.2 L590.2,172.3 L592.8,177.2 L595.3,185.0 L597.6,179.2 L599.6,169.4 L601.2,172.3 L602.5,169.4 L604.5,170.3 L607.0,162.5 L609.0,160.6 L610.4,163.5 L611.9,161.1 L614.3,169.4 L616.2,174.3 L618.2,187.0 L620.2,182.1 L622.1,188.9 L624.1,196.8 L625.1,204.6 L626.6,194.8 L629.0,185.0 L630.9,179.2 L632.5,175.2 L634.5,180.1 L636.8,178.2 L638.8,178.2 L641.1,172.3 L644.2,170.3 L647.6,171.3 L649.5,179.2 L652.5,187.0 L654.8,184.0 L657.6,178.1 L659.3,180.1 L660.5,184.6 L662.1,181.0 L664.5,186.8 L667.0,198.1 L668.9,191.2 L671.2,188.9 L673.5,200.4 L675.3,195.8 L677.6,205.1 L680.0,214.3 L681.6,221.2 L683.4,215.5 L685.5,220.1 L687.8,222.4 L690.1,220.1 L691.5,234.0 L693.1,257.1 L694.8,258.2 L696.6,266.8 L699.4,273.2 L701.2,268.6 L703.5,275.6 L705.4,279.0 L707.0,270.9 L708.6,265.8 L711.6,268.6 L712.8,274.4 L714.6,266.8 L717.4,262.1 L719.2,267.5 L720.9,273.2 L722.0,270.9 L723.4,277.9 L725.5,270.9 L727.8,273.2 L730.1,272.1 L732.4,274.4 L734.0,272.1 L735.2,276.7 L735.9,266.8 L737.0,252.4 L738.2,249.0 L740.0,254.8 L742.4,252.4 L744.0,247.8 L745.6,249.0 L747.4,234.0 L749.1,224.7 L750.4,234.0 L752.1,246.7 L754.4,244.4 L757.1,252.4 L758.5,213.2 L760.8,206.5 L762.0,175.0 L763.0,138.6 L765.0,122.4 L767.4,103.7 L769.9,98.7 L772.4,92.5 L774.2,90.0 L775.7,98.7 L776.9,123.6 L778.7,119.9 L779.9,128.6 L781.7,126.1 L783.6,138.6 L785.4,144.8 L787.4,146.0 L788.6,152.3 L790.4,142.3 L791.9,137.3 L793.6,148.5 L796.1,146.0 L797.4,154.8 L799.3,172.2 L801.1,177.2 L803.1,174.7 L804.8,169.7 L806.8,185.9 L808.3,178.5 L810.0,180.0 L811.6,189.7 L812.8,203.0 L814.4,221.1 L816.4,231.9 L818.3,228.0 L819.7,228.9 L821.1,244.6 L822.6,252.4 L824.6,247.5 L826.1,262.2 L827.5,264.6 L828.9,263.2 L830.8,252.4 L832.8,257.3 L834.8,255.4 L836.3,249.5 L837.9,244.6 L839.8,249.5 L842.2,257.3 L844.2,263.2 L845.7,259.3 L847.1,263.2 L849.0,258.3 L851.0,251.5 L853.0,252.4 L855.5,246.6 L857.5,254.4 L859.8,264.2 L862.2,259.3 L864.7,257.3 L866.7,262.2 L868.6,266.5 L870.6,275.5 L872.0,266.5 L873.9,258.3 L875.5,254.4 L877.0,260.3 L879.0,254.4 L881.4,256.4 L883.3,263.2 L884.9,258.3 L886.2,266.5 L889.2,267.1 L893.1,270.1 L894.7,275.0 L896.6,267.1 L898.6,271.0 L900.9,278.9 L902.9,273.0 L904.5,266.5 L906.4,259.3 L907.8,262.2 L909.7,254.4 L911.7,262.2 L913.1,258.3 L914.6,239.7 L916.2,254.4 L917.2,266.5 L918.6,271.0 L919.9,272.0 L920.9,238.7 L922.1,238.7 L923.4,266.5 L924.4,271.6 L925.4,266.5 L926.6,252.6 L928.8,254.2 L931.1,249.2 L933.5,255.4 L936.1,262.0 L937.7,266.7 L940.7,272.4 L943.0,272.4 L944.6,267.4 L947.0,266.7 L948.6,261.3 L950.4,261.3 L952.7,266.7 L954.6,271.3 L956.2,269.0 L957.8,277.1 L959.7,271.3 L961.5,284.0 L963.1,297.9 L964.3,303.6 L966.1,293.2 L968.2,284.0 L970.1,295.6 L971.9,288.6 L973.5,287.5 L975.4,281.7 L977.2,272.4 L979.3,277.1 L981.6,275.9 L983.9,277.1 L985.6,272.4 L986.9,266.7 L987.9,256.3 L989.7,259.7 L992.0,258.6 L993.9,260.9 L996.6,256.3 L999.4,251.6 L1001.3,248.2 L1002.9,243.6 L1004.7,250.5 L1007.0,254.0 L1009.4,249.3 L1011.0,238.9 L1012.8,241.2 L1014.7,238.9 L1016.3,243.6 L1017.9,241.2 L1019.8,235.0 L1021.6,227.0 L1022.8,206.0 L1024.5,202.5 L1025.9,196.2 L1027.3,206.0 L1029.1,214.7 L1031.2,222.5 L1032.7,225.1 L1034.3,213.6 L1035.7,211.2 L1037.3,215.9 L1039.0,219.3 L1040.8,228.6 L1042.6,224.0 L1045.0,222.8 L1047.7,217.7 L1050.0,219.3 L1052.4,221.6 L1054.2,220.5 L1055.4,218.2 L1057.0,226.3 L1058.8,227.4 L1060.4,235.5 L1062.1,230.9 L1063.9,232.0 L1065.8,230.9 L1067.4,233.2 L1069.0,229.7 L1070.4,224.0 L1072.0,220.5 L1073.6,237.8 L1075.5,221.6 L1077.3,217.0 L1078.9,214.7 L1080.5,210.1 L1082.9,212.4 L1084.7,206.6 L1087.0,204.3 L1088.9,208.9 L1090.5,205.5 L1091.6,196.2 L1093.5,205.5 L1095.1,195.1 L1096.7,175.4 L1098.1,166.2 L1099.7,178.9 L1101.3,184.7 L1103.2,188.1 L1105.0,187.0 L1106.7,191.6 L1107.8,188.1 L1109.7,193.9 L1111.3,197.4 L1112.9,205.5 L1115.5,205.5" fill="none" stroke="#ea3943" stroke-width="2.7" stroke-linejoin="round" stroke-linecap="round" clip-path="url(#dn)"/>
<line x1="9.0" y1="20.0" x2="1116.5" y2="20.0" stroke="#e7e8ea" stroke-width="1.8"/>
<line x1="9.8" y1="20.0" x2="9.8" y2="527.5" stroke="#f1f1f3" stroke-width="1.3"/>
<line x1="1115.5" y1="20.0" x2="1115.5" y2="527.5" stroke="#f1f1f3" stroke-width="1.3"/>
<text x="1124.6" y="89.1" font-size="16" fill="#6d788e" textLength="59.9" lengthAdjust="spacingAndGlyphs">114.00K</text>
<text x="1124.6" y="150.1" font-size="16" fill="#6d788e" textLength="59.5" lengthAdjust="spacingAndGlyphs">112.00K</text>
<text x="1124.4" y="272.6" font-size="16" fill="#6d788e" textLength="62.8" lengthAdjust="spacingAndGlyphs">108.00K</text>
<text x="1124.4" y="334.4" font-size="16" fill="#6d788e" textLength="62.8" lengthAdjust="spacingAndGlyphs">106.00K</text>
<text x="1124.4" y="395.3" font-size="16" fill="#6d788e" textLength="62.8" lengthAdjust="spacingAndGlyphs">104.00K</text>
<text x="1124.4" y="457.0" font-size="16" fill="#6d788e" textLength="62.8" lengthAdjust="spacingAndGlyphs">102.00K</text>
<text x="1133.5" y="528" font-size="16" font-weight="700" fill="#6d788e" textLength="37" lengthAdjust="spacingAndGlyphs">USD</text>
<text x="37.60" y="555.7" font-size="16" fill="#6d788e" textLength="49.2" lengthAdjust="spacingAndGlyphs">17 Oct</text>
<text x="195.10" y="555.7" font-size="16" fill="#6d788e" textLength="48.8" lengthAdjust="spacingAndGlyphs">18 Oct</text>
<text x="352.20" y="555.7" font-size="16" fill="#6d788e" textLength="49.2" lengthAdjust="spacingAndGlyphs">19 Oct</text>
<text x="509.20" y="555.7" font-size="16" fill="#6d788e" textLength="50.8" lengthAdjust="spacingAndGlyphs">20 Oct</text>
<text x="667.30" y="555.7" font-size="16" fill="#6d788e" textLength="48.6" lengthAdjust="spacingAndGlyphs">21 Oct</text>
<text x="823.60" y="555.7" font-size="16" fill="#6d788e" textLength="51" lengthAdjust="spacingAndGlyphs">22 Oct</text>
<text x="980.80" y="555.7" font-size="16" fill="#6d788e" textLength="51" lengthAdjust="spacingAndGlyphs">23 Oct</text>
<rect x="1115" y="188" width="81.4" height="36.9" rx="4.2" ry="4.2" fill="#18c786"/>
<text x="1124.9" y="212.8" font-size="15.6" fill="#ffffff" stroke="#ffffff" stroke-width="0.35" textLength="59.8" lengthAdjust="spacingAndGlyphs">109.91K</text>
<rect x="14.5" y="252.5" width="74" height="31" rx="7" fill="#ffffff" filter="url(#blur)"/>
<rect x="15.5" y="253.5" width="72" height="29" rx="6" fill="#ffffff" opacity="0.9"/>
<text x="20" y="274.4" font-size="16.5" fill="#58667e" textLength="62.7" lengthAdjust="spacingAndGlyphs">108.03K</text>
<path d="M335.6,559.2 L339,563 L332.2,563 Z" fill="#16c784"/>
<path d="M1051.5,558.6 L1055,562.5 L1048,562.5 Z" fill="#2f5bf6"/>
</svg></body></html>
